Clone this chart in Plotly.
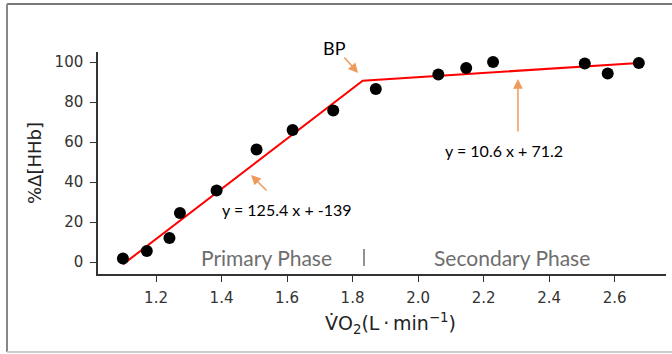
import plotly.graph_objects as go

# Measured points: VO2 (L/min) vs %Δ[HHb]
vo2 = [1.099, 1.172, 1.241, 1.273, 1.385, 1.507, 1.617, 1.741, 1.871,
       2.062, 2.147, 2.229, 2.509, 2.579, 2.674]
hhb = [1.7, 5.5, 12.0, 24.5, 35.8, 56.3, 66.0, 75.7, 86.5,
       93.7, 97.0, 100.0, 99.3, 94.2, 99.5]

# Two-segment regression fit
slope1, icpt1 = 125.4, -139.0
slope2, icpt2 = 10.6, 71.2
bp_x = (icpt2 - icpt1) / (slope1 - slope2)
fit_x = [vo2[0], bp_x, vo2[-1]]
fit_y = [slope1 * fit_x[0] + icpt1, slope1 * bp_x + icpt1, slope2 * fit_x[2] + icpt2]

x_ticks = [1.2, 1.4, 1.6, 1.8, 2.0, 2.2, 2.4, 2.6]
y_ticks = [0, 20, 40, 60, 80, 100]

ARROW = "#EE9A5A"
TXT_FONT = "Lato, 'Open Sans', sans-serif"
AX_FONT = "'DejaVu Sans', sans-serif"

W, H = 672, 354
L, R, T, B = 98, 6, 52, 80
pw, ph = W - L - R, H - T - B
def px(xp): return (xp - L) / pw
def py(yp): return (H - B - yp) / ph

fig = go.Figure()
fig.add_trace(go.Scatter(x=fit_x, y=fit_y, mode="lines",
                         line=dict(color="#FF0000", width=2), hoverinfo="skip"))
fig.add_trace(go.Scatter(x=vo2, y=hhb, mode="markers",
                         marker=dict(color="black", size=12, line=dict(width=0))))

def arrow(x0, y0, x1, y1):
    fig.add_annotation(x=x1, y=y1, ax=x0, ay=y0, xref="x", yref="y",
                       axref="x", ayref="y", text="", showarrow=True,
                       arrowhead=2, arrowsize=1.3, arrowwidth=1.5,
                       arrowcolor=ARROW)

arrow(1.771, 103, 1.817, 94.5)
arrow(1.542, 35, 1.490, 43.5)
arrow(2.305, 64.5, 2.305, 91.5)

def label(x, y, text, size, color="black", anchor="left", yref="y"):
    fig.add_annotation(x=x, y=y, xref="x", yref=yref, text=text, showarrow=False,
                       xanchor=anchor, yanchor="middle",
                       font=dict(family=TXT_FONT, size=size, color=color))

label(1.744, py(48), "BP", 18, anchor="center", yref="paper")
label(1.395, 26.5, "y = 125.4 x + -139", 16)
label(2.075, 56, "y = 10.6 x + 71.2", 16)
label(1.331, 2.5, "Primary Phase", 21, color="#6E6E6E")
label(2.043, 2.5, "Secondary Phase", 21, color="#6E6E6E")

# x-axis title
fig.add_annotation(x=px(390), y=py(323), xref="paper", yref="paper",
                   text="V\u0307O<sub>2</sub>(L\u2009\u00b7\u2009min<sup>\u22121</sup>)",
                   showarrow=False, xanchor="center", yanchor="middle",
                   font=dict(family=AX_FONT, size=19, color="#222222"))

# Divider between the two phases
fig.add_shape(type="line", xref="x", yref="y", x0=1.835, x1=1.835, y0=6.5, y1=-2,
              line=dict(color="#6E6E6E", width=1.5))

# Frame around the figure
fig.add_shape(type="line", xref="paper", yref="paper", x0=px(7), x1=px(672),
              y0=py(4), y1=py(4), line=dict(color="#777777", width=2))
fig.add_shape(type="line", xref="paper", yref="paper", x0=px(7), x1=px(7),
              y0=py(4), y1=py(352), line=dict(color="#888888", width=2))
fig.add_shape(type="line", xref="paper", yref="paper", x0=px(7), x1=px(672),
              y0=py(352), y1=py(352), line=dict(color="#CCCCCC", width=2))

fig.update_layout(
    width=W, height=H, margin=dict(l=L, r=R, t=T, b=B),
    paper_bgcolor="white", plot_bgcolor="white", showlegend=False,
    xaxis=dict(range=[1.0229, 2.757], tickvals=x_ticks,
               ticktext=[f"{v:.1f}" for v in x_ticks],
               showline=True, linecolor="#333333", linewidth=1.5,
               ticks="outside", ticklen=6, tickwidth=1.2, tickcolor="#333333",
               ticklabelstandoff=3,
               showgrid=False, zeroline=False,
               tickfont=dict(family=AX_FONT, size=15, color="#333333")),
    yaxis=dict(range=[-6, 105], tickvals=y_ticks,
               showline=True, linecolor="#333333", linewidth=1.5,
               ticks="outside", ticklen=6, tickwidth=1.2, tickcolor="#333333",
               ticklabelstandoff=4,
               showgrid=False, zeroline=False,
               tickfont=dict(family=AX_FONT, size=15, color="#333333"),
               title=dict(text="%\u0394[HHb]",
                          font=dict(family=AX_FONT, size=18, color="#222222"),
                          standoff=8)),
)

fig.write_html("out.html")
